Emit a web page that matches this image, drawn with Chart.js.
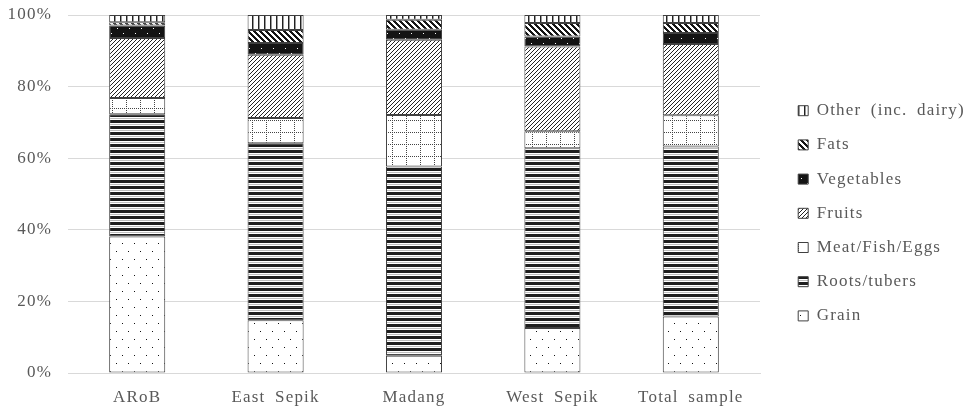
<!DOCTYPE html>
<html>
<head>
<meta charset="utf-8">
<script src="https://cdn.jsdelivr.net/npm/chart.js@4/dist/chart.umd.min.js"></script>
<style>
  html, body { margin: 0; padding: 0; background: #fff; }
  #wrap { width: 968px; height: 408px; }
</style>
</head>
<body>
<div id="wrap"><canvas id="c" width="968" height="408"></canvas></div>
<script>
// Share of food expenditure by group (%), per province
const categories = ['ARoB', 'East Sepik', 'Madang', 'West Sepik', 'Total sample'];
const grain        = [38.1, 14.7,  4.8, 12.6, 15.8];
const rootsTubers  = [34.2, 49.5, 52.9, 50.2, 47.5];
const meatFishEggs = [ 4.5,  7.0, 14.4,  4.7,  8.7];
const fruits       = [16.8, 17.7, 21.0, 23.7, 19.9];
const vegetables   = [ 3.5,  3.3,  2.8,  2.8,  3.1];
const fats         = [ 0.9,  3.6,  2.8,  3.8,  2.8];
const otherDairy   = [ 2.0,  4.2,  1.3,  2.2,  2.2];
const yTicks = [0, 20, 40, 60, 80, 100];

const TEXT = '#595959';
const FONT = { family: "'Liberation Serif', 'DejaVu Serif', serif", size: 17 };
const LETTER_SPACING = '1.2px';
const WORD_SPACING = '4px';

// Monochrome fill patterns built from small tiles
function tile(w, h, draw) {
  const c = document.createElement('canvas');
  c.width = w; c.height = h;
  const g = c.getContext('2d');
  g.fillStyle = '#fff';
  g.fillRect(0, 0, w, h);
  draw(g, w, h);
  return g.createPattern(c, 'repeat');
}
const px = (g, x, y, col) => { g.fillStyle = col; g.fillRect(x, y, 1, 1); };

const patGrain = tile(12, 16, g => {
  px(g, 2, 3, '#111'); px(g, 8, 11, '#111');
});
const patRoots = tile(4, 6, g => {
  g.fillStyle = '#1e1e1e'; g.fillRect(0, 0, 4, 3);
  g.fillStyle = '#bdbdbd'; g.fillRect(0, 4, 4, 1);
});
const patMeat = tile(14, 12, g => {
  for (let x = 0; x < 14; x += 2) px(g, x, 0, '#444');
  for (let y = 0; y < 12; y += 2) px(g, 0, y, '#444');
});
const patFruits = tile(4, 4, g => {
  for (let i = 0; i < 4; i++) { px(g, i, 3 - i, '#222'); }
});
const patVeg = tile(12, 10, g => {
  g.fillStyle = '#141414'; g.fillRect(0, 0, 12, 10);
  px(g, 3, 3, '#fff'); px(g, 9, 8, '#fff');
});
const patFats = tile(6, 6, g => {
  for (let x = 0; x < 6; x++) for (let y = 0; y < 6; y++) {
    if ((((x - y) % 6) + 6) % 6 < 3) px(g, x, y, '#151515');
  }
});
const patOther = tile(6, 4, g => {
  g.fillStyle = '#222'; g.fillRect(0, 0, 1, 4);
  g.fillStyle = '#999'; g.fillRect(1, 0, 1, 4);
});

function series(label, data, fill) {
  return {
    label, data,
    backgroundColor: fill,
    borderColor: '#404040',
    borderWidth: 1,
    borderSkipped: false,
    categoryPercentage: 1,
    barPercentage: 0.405
  };
}

// Letter and word spacing for canvas text (reset whenever the canvas is resized)
function applySpacing(chart) {
  chart.ctx.letterSpacing = LETTER_SPACING;
  chart.ctx.wordSpacing = WORD_SPACING;
}
const textSpacing = {
  id: 'textSpacing',
  beforeUpdate: applySpacing,
  beforeLayout: applySpacing,
  beforeDraw: applySpacing
};

// Fixed legend column width on the right
const legendWidth = {
  id: 'legendWidth',
  afterInit(chart) {
    const lg = chart.legend;
    if (!lg) return;
    const fit = lg.fit;
    lg.fit = function () { fit.call(this); this.width = 187; };
  }
};

new Chart(document.getElementById('c'), {
  type: 'bar',
  data: {
    labels: categories,
    datasets: [
      series('Grain', grain, patGrain),
      series('Roots/tubers', rootsTubers, patRoots),
      series('Meat/Fish/Eggs', meatFishEggs, patMeat),
      series('Fruits', fruits, patFruits),
      series('Vegetables', vegetables, patVeg),
      series('Fats', fats, patFats),
      series('Other (inc. dairy)', otherDairy, patOther)
    ]
  },
  plugins: [textSpacing, legendWidth],
  options: {
    responsive: false,
    animation: false,
    devicePixelRatio: 1,
    layout: { padding: { top: 15, bottom: 0, left: 0, right: 0 } },
    plugins: {
      tooltip: { enabled: false },
      legend: {
        position: 'right',
        reverse: true,
        title: { display: true, text: '', font: { size: 3 }, padding: 0 },
        labels: {
          boxWidth: 10,
          boxHeight: 10,
          padding: 17.2,
          color: TEXT,
          font: FONT
        }
      }
    },
    scales: {
      x: {
        stacked: true,
        grid: { display: false, drawTicks: false },
        border: { color: '#d9d9d9' },
        ticks: { color: TEXT, font: FONT, padding: 14, maxRotation: 0 },
        afterFit(s) { s.height = 35; }
      },
      y: {
        stacked: true,
        min: 0,
        max: 100,
        grid: { color: '#d9d9d9', drawTicks: false },
        border: { display: false },
        ticks: { color: TEXT, font: FONT, padding: 16, callback: v => v + '%' },
        afterBuildTicks(s) { s.ticks = yTicks.map(v => ({ value: v })); },
        afterFit(s) { s.width = 68; s.paddingTop = 0; s.paddingBottom = 0; }
      },
      gap: {
        type: 'linear',
        position: 'right',
        display: true,
        grid: { display: false },
        border: { display: false },
        ticks: { display: false },
        afterFit(s) { s.width = 21; }
      }
    }
  }
});
</script>
</body>
</html>
